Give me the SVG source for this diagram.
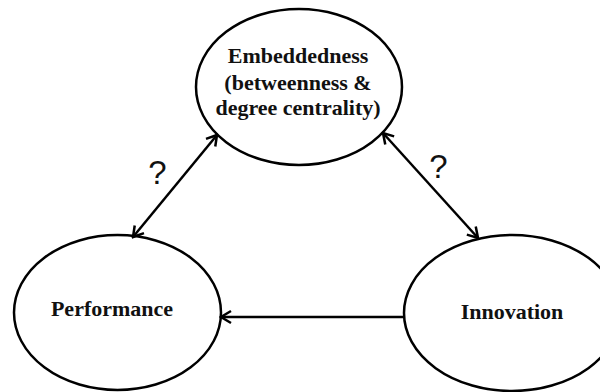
<svg xmlns="http://www.w3.org/2000/svg" width="600" height="392" viewBox="0 0 600 392">
<style>
.node ellipse{fill:#fff;stroke:#000;stroke-width:2.5}
.lbl{font-family:"Liberation Serif","Times New Roman",serif;font-weight:bold;font-size:22px;fill:#111;text-anchor:middle}
.q{font-family:"Liberation Sans",Arial,sans-serif;font-size:33px;fill:#111;text-anchor:middle}
.edge{stroke:#000;stroke-width:2.5;fill:none}
</style>
<defs>
<marker id="ah" markerUnits="userSpaceOnUse" markerWidth="16" markerHeight="16" viewBox="0 0 16 16" refX="14" refY="8" orient="auto-start-reverse">
<path d="M4,2 L14,8 L4,14" fill="none" stroke="#000" stroke-width="2.5"/>
</marker>
</defs>
<rect width="600" height="392" fill="#fff"/>
<g id="embeddedness" class="node">
<ellipse cx="299" cy="87" rx="103" ry="78"/>
<text class="lbl" x="298" y="63">Embeddedness</text>
<text class="lbl" x="298" y="90">(betweenness &amp;</text>
<text class="lbl" x="298" y="115">degree centrality)</text>
</g>
<g id="performance" class="node">
<ellipse cx="117.5" cy="312.5" rx="103.5" ry="77.5"/>
<text class="lbl" x="112" y="316">Performance</text>
</g>
<g id="innovation" class="node">
<ellipse cx="512" cy="313" rx="108" ry="78"/>
<text class="lbl" x="512" y="319">Innovation</text>
</g>
<g id="connectors">
<line class="edge" x1="133" y1="237" x2="217" y2="135" marker-start="url(#ah)" marker-end="url(#ah)"/>
<line class="edge" x1="383" y1="133" x2="478" y2="238" marker-start="url(#ah)" marker-end="url(#ah)"/>
<line class="edge" x1="404" y1="317" x2="221" y2="317" marker-end="url(#ah)"/>
<text class="q" x="157.5" y="184">?</text>
<text class="q" x="438.5" y="178">?</text>
</g>
</svg>
